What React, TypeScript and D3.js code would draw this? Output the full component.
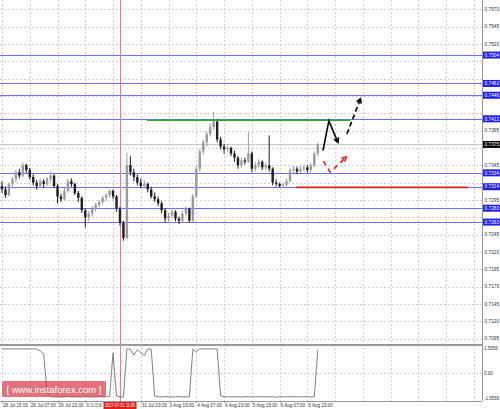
import React from "react";
import * as d3 from "d3";

// ---------- data ----------
const priceTicks = [0.7570, 0.7545, 0.7520, 0.7495, 0.7470, 0.7445, 0.7420, 0.7395, 0.7370, 0.7345, 0.7320, 0.7295, 0.7270, 0.7245, 0.7220, 0.7195, 0.7170, 0.7145, 0.7120, 0.7095];
const levelLines = [0.7504, 0.7463, 0.7446, 0.7412, 0.7334, 0.7314, 0.7283, 0.7263];
const currentPrice = 0.7375;
const timeLabelIdx = [0, 8, 16, 24, 40, 48, 56, 64, 72, 80, 88];
const timeLabelText = ["28 Jul 15:00", "29 Jul 07:00", "29 Jul 23:00", "30 Jul 15:00", "31 Jul 23:00", "3 Aug 15:00", "4 Aug 07:00", "4 Aug 23:00", "5 Aug 15:00", "6 Aug 07:00", "6 Aug 23:00"];
const crosshairIdx = 34;
const crosshairText = "2017-07-31 11:00";

// O, H, L, C
const candles: [number, number, number, number][] = [
  [0.7315, 0.7322, 0.7305, 0.7310], [0.7310, 0.7314, 0.7298, 0.7302], [0.7302, 0.7320, 0.7300, 0.7318], [0.7318, 0.7328, 0.7312, 0.7325],
  [0.7325, 0.7338, 0.7320, 0.7335], [0.7335, 0.7340, 0.7326, 0.7330], [0.7330, 0.7349, 0.7328, 0.7345], [0.7345, 0.7347, 0.7334, 0.7338],
  [0.7338, 0.7341, 0.7324, 0.7328], [0.7328, 0.7332, 0.7316, 0.7320], [0.7320, 0.7324, 0.7310, 0.7315], [0.7315, 0.7326, 0.7312, 0.7322],
  [0.7322, 0.7325, 0.7313, 0.7318], [0.7318, 0.7328, 0.7315, 0.7325], [0.7325, 0.7336, 0.7320, 0.7330], [0.7330, 0.7332, 0.7312, 0.7315],
  [0.7315, 0.7318, 0.7290, 0.7300], [0.7300, 0.7304, 0.7292, 0.7296], [0.7296, 0.7312, 0.7294, 0.7308], [0.7308, 0.7325, 0.7305, 0.7322],
  [0.7322, 0.7326, 0.7314, 0.7318], [0.7318, 0.7320, 0.7302, 0.7305], [0.7305, 0.7308, 0.7292, 0.7298], [0.7298, 0.7300, 0.7276, 0.7280],
  [0.7280, 0.7283, 0.7255, 0.7270], [0.7270, 0.7279, 0.7264, 0.7275], [0.7275, 0.7286, 0.7271, 0.7282], [0.7282, 0.7291, 0.7278, 0.7288],
  [0.7288, 0.7295, 0.7284, 0.7292], [0.7292, 0.7301, 0.7288, 0.7298], [0.7298, 0.7305, 0.7294, 0.7302], [0.7302, 0.7310, 0.7298, 0.7308],
  [0.7308, 0.7310, 0.7296, 0.7300], [0.7300, 0.7302, 0.7278, 0.7282], [0.7282, 0.7285, 0.7258, 0.7262], [0.7262, 0.7265, 0.7236, 0.7240],
  [0.7240, 0.7363, 0.7238, 0.7345], [0.7345, 0.7358, 0.7330, 0.7335], [0.7335, 0.7340, 0.7322, 0.7328], [0.7328, 0.7332, 0.7316, 0.7320],
  [0.7320, 0.7326, 0.7312, 0.7315], [0.7315, 0.7324, 0.7311, 0.7318], [0.7318, 0.7320, 0.7306, 0.7310], [0.7310, 0.7314, 0.7297, 0.7300],
  [0.7300, 0.7306, 0.7292, 0.7296], [0.7296, 0.7300, 0.7286, 0.7290], [0.7290, 0.7293, 0.7276, 0.7280], [0.7280, 0.7283, 0.7262, 0.7268],
  [0.7268, 0.7276, 0.7264, 0.7272], [0.7272, 0.7283, 0.7269, 0.7278], [0.7278, 0.7280, 0.7264, 0.7268], [0.7268, 0.7271, 0.7260, 0.7265],
  [0.7265, 0.7279, 0.7262, 0.7275], [0.7275, 0.7286, 0.7271, 0.7282], [0.7282, 0.7284, 0.7262, 0.7265], [0.7265, 0.7304, 0.7263, 0.7300],
  [0.7300, 0.7344, 0.7298, 0.7340], [0.7340, 0.7368, 0.7336, 0.7365], [0.7365, 0.7382, 0.7360, 0.7378], [0.7378, 0.7394, 0.7372, 0.7390],
  [0.7390, 0.7405, 0.7386, 0.7400], [0.7400, 0.7422, 0.7396, 0.7408], [0.7408, 0.7412, 0.7378, 0.7382], [0.7382, 0.7386, 0.7368, 0.7372],
  [0.7372, 0.7376, 0.7362, 0.7368], [0.7368, 0.7375, 0.7364, 0.7370], [0.7370, 0.7372, 0.7358, 0.7362], [0.7362, 0.7366, 0.7350, 0.7356],
  [0.7356, 0.7358, 0.7340, 0.7345], [0.7345, 0.7356, 0.7342, 0.7352], [0.7352, 0.7356, 0.7346, 0.7350], [0.7350, 0.7393, 0.7348, 0.7362],
  [0.7362, 0.7365, 0.7335, 0.7340], [0.7340, 0.7350, 0.7336, 0.7345], [0.7345, 0.7354, 0.7341, 0.7350], [0.7350, 0.7352, 0.7338, 0.7342],
  [0.7342, 0.7349, 0.7338, 0.7345], [0.7345, 0.7388, 0.7336, 0.7340], [0.7340, 0.7342, 0.7316, 0.7320], [0.7320, 0.7325, 0.7314, 0.7318],
  [0.7318, 0.7320, 0.7313, 0.7315], [0.7315, 0.7320, 0.7312, 0.7317], [0.7317, 0.7326, 0.7314, 0.7322], [0.7322, 0.7342, 0.7320, 0.7338],
  [0.7338, 0.7344, 0.7332, 0.7340], [0.7340, 0.7343, 0.7332, 0.7336], [0.7336, 0.7344, 0.7333, 0.7340], [0.7340, 0.7346, 0.7336, 0.7342],
  [0.7342, 0.7345, 0.7334, 0.7338], [0.7338, 0.7348, 0.7335, 0.7345], [0.7345, 0.7365, 0.7342, 0.7362], [0.7362, 0.7378, 0.7358, 0.7375],
];

const indicator = [
  1.50, 1.50, 1.50, 1.50, 1.50, 1.50, 1.50, 1.50, 1.50, 1.50, 1.50,
  1.38, 1.22, -1.20,
  -1.44, -1.46, -1.45, -1.47, -1.45, -1.44, -1.46, -1.45, -1.45, -1.47, -1.44, -1.45, -1.46, -1.45, -1.44, -1.46, -1.45,
  -1.42, 1.25, -1.40, -1.45, -1.46,
  1.50, 1.48, 1.12, 1.45, 1.28, 1.08, 1.50, 1.48, -1.40,
  -1.45, -1.46, -1.44, -1.45, -1.47, -1.45, -1.44, -1.46, -1.45, -1.45,
  1.48, 1.32,
  1.50, 1.50, 1.50, 1.50, 1.50, 1.50,
  -1.38,
  -1.45, -1.44, -1.46, -1.45, -1.45, -1.47, -1.44, -1.45, -1.46, -1.45, -1.44, -1.45, -1.46, -1.45, -1.45, -1.47, -1.44, -1.45, -1.46, -1.44, -1.45, -1.45, -1.46, -1.44, -1.45, -1.46, -1.45,
  1.45,
];
const indTicks = [1.5556, 0, -1.5556];
const indTickText = ["1.5556", "0.00", "-1.5556"];

// annotations (candle index, price)
const greenLine: [number, number][] = [[41.8, 0.7410], [100.3, 0.7410]];
const redLine: [number, number][] = [[84.7, 0.7313], [134.3, 0.7313]];
const blackSolid: [number, number][] = [[92.5, 0.7366], [94.2, 0.7409], [96.8, 0.7378]];
const blackDashed: [number, number][] = [[99.4, 0.7390], [103.3, 0.7441]];
const redDashed: [number, number][] = [[92.6, 0.7351], [94.6, 0.7335], [99.2, 0.7357]];

// ---------- layout ----------
const W = 500, H = 409;
const plotRight = 482;
const bottomY = 401;

export default function App() {
  const x = d3.scaleLinear().domain([0, 1]).range([2, 5.47]);
  const y = d3.scaleLinear().domain([0.7095, 0.7570]).range([338.5, 9.3]);
  const yi = d3.scaleLinear().domain([-1.5556, 1.5556]).range([398.5, 348]);
  const line = d3.line<[number, number]>().x(d => x(d[0])).y(d => y(d[1]));
  const indLine = d3.line<number>().x((_, i) => x(i)).y(d => yi(d));

  const gridXs: number[] = [];
  for (let i = 0; x(i) < plotRight - 2; i += 8) gridXs.push(x(i));

  const boxPrices = [...levelLines, currentPrice];
  const visibleTicks = priceTicks.filter(p => boxPrices.every(b => Math.abs(y(b) - y(p)) >= 6.5));

  const arrowHead = (pts: [number, number][], color: string, key: string) => {
    const a = pts[pts.length - 2], b = pts[pts.length - 1];
    const x1 = x(a[0]), y1 = y(a[1]), x2 = x(b[0]), y2 = y(b[1]);
    const ang = Math.atan2(y2 - y1, x2 - x1);
    const L = 5, s = 0.5;
    const p1 = [x2 - L * Math.cos(ang - s), y2 - L * Math.sin(ang - s)];
    const p2 = [x2 - L * Math.cos(ang + s), y2 - L * Math.sin(ang + s)];
    return <path key={key} d={`M${p1[0]},${p1[1]}L${x2},${y2}L${p2[0]},${p2[1]}`} fill="none" stroke={color} strokeWidth={1.6} />;
  };

  const font = "'Liberation Sans', Arial, sans-serif";
  const boxW = 33;
  const boxLeft = x(crosshairIdx) - boxW / 2;

  return (
    <svg width={W} height={H} style={{ position: "absolute", left: 0, top: 0, background: "#fff" }} fontFamily={font}>
      <rect x={0} y={0} width={W} height={H} fill="#fff" />
      {/* grid */}
      {priceTicks.map(p => (
        <line key={"hg" + p} x1={0} x2={plotRight} y1={Math.round(y(p)) + 0.5} y2={Math.round(y(p)) + 0.5} stroke="#d0d0d0" strokeDasharray="2,2" />
      ))}
      <line x1={0} x2={plotRight} y1={Math.round(yi(0)) + 0.5} y2={Math.round(yi(0)) + 0.5} stroke="#d0d0d0" strokeDasharray="2,2" />
      {gridXs.map(gx => (
        <line key={"vg" + gx} x1={Math.round(gx) + 0.5} x2={Math.round(gx) + 0.5} y1={0} y2={bottomY} stroke="#d0d0d0" strokeDasharray="2,2" />
      ))}
      {/* bid line */}
      <line x1={0} x2={plotRight} y1={Math.round(y(currentPrice)) + 0.5} y2={Math.round(y(currentPrice)) + 0.5} stroke="#c8c8c8" />
      {/* level lines */}
      {levelLines.map(p => (
        <line key={"lv" + p} x1={0} x2={plotRight} y1={Math.round(y(p)) + 0.5} y2={Math.round(y(p)) + 0.5} stroke="#6e6eff" strokeWidth={1} />
      ))}
      {/* crosshair */}
      <line x1={Math.round(x(crosshairIdx)) + 0.5} x2={Math.round(x(crosshairIdx)) + 0.5} y1={0} y2={bottomY} stroke="#e88080" />
      {/* candles */}
      {candles.map((c, i) => {
        const [o, h, l, cl] = c;
        const up = cl >= o;
        const col = up ? "#9a9a9a" : "#1e1e1e";
        const cx = x(i);
        const top = y(Math.max(o, cl)), bot = y(Math.min(o, cl));
        return (
          <g key={"c" + i}>
            <line x1={cx} x2={cx} y1={y(h)} y2={y(l)} stroke={col} strokeWidth={1} />
            <rect x={cx - 1.2} y={top} width={2.4} height={Math.max(0.8, bot - top)} fill={col} />
          </g>
        );
      })}
      {/* horizontal annotation lines */}
      <path d={line(greenLine) || ""} stroke="#22b022" strokeWidth={1.6} fill="none" />
      <path d={line(redLine) || ""} stroke="#e02020" strokeWidth={1.6} fill="none" />
      {/* arrows */}
      <path d={line(blackSolid) || ""} stroke="#000" strokeWidth={1.6} fill="none" />
      {arrowHead(blackSolid, "#000", "ah1")}
      <path d={line(blackDashed) || ""} stroke="#000" strokeWidth={1.6} fill="none" strokeDasharray="5,3" />
      {arrowHead(blackDashed, "#000", "ah2")}
      <path d={line(redDashed) || ""} stroke="#e02020" strokeWidth={1.6} fill="none" strokeDasharray="5,4" />
      {arrowHead(redDashed, "#e02020", "ah3")}
      {/* indicator panel */}
      <line x1={0} x2={plotRight} y1={345} y2={345} stroke="#999" strokeWidth={2} />
      <path d={indLine(indicator) || ""} stroke="#808080" strokeWidth={1} fill="none" />
      {/* watermark */}
      <rect x={2} y={381} width={104} height={16} rx={2} fill="rgb(215,60,75)" fillOpacity={0.72} />
      <text x={54} y={392.5} textAnchor="middle" fontSize={9.5} fill="#fff">[ www.instaforex.com ]</text>
      {/* borders */}
      <line x1={plotRight + 0.5} x2={plotRight + 0.5} y1={0} y2={bottomY} stroke="#999" />
      <line x1={0} x2={plotRight} y1={bottomY + 0.5} y2={bottomY + 0.5} stroke="#999" />
      {/* right axis labels */}
      {visibleTicks.map(p => (
        <text key={"pt" + p} x={484.5} y={y(p) + 1.7} fontSize={4.8} fill="#333">{p.toFixed(4)}</text>
      ))}
      {levelLines.map(p => (
        <g key={"lb" + p}>
          <rect x={483} y={y(p) - 3.5} width={17} height={7} fill="#1f1fe6" />
          <text x={484.5} y={y(p) + 1.7} fontSize={4.8} fill="#fff">{p.toFixed(4)}</text>
        </g>
      ))}
      <rect x={483} y={y(currentPrice) - 3.5} width={17} height={7} fill="#000" />
      <text x={484.5} y={y(currentPrice) + 1.7} fontSize={4.8} fill="#fff">{currentPrice.toFixed(4)}</text>
      {indTicks.map((v, i) => (
        <text key={"it" + i} x={484} y={Math.min(yi(v) + 1.7, 400)} fontSize={4.5} fill="#333">{indTickText[i]}</text>
      ))}
      {/* time labels */}
      {timeLabelIdx.map((ti, k) => {
        const lx = x(ti) + 1;
        const squeeze = lx < boxLeft && lx + 22 > boxLeft;
        return (
          <g key={"tl" + ti}>
            <line x1={Math.round(x(ti)) + 0.5} x2={Math.round(x(ti)) + 0.5} y1={bottomY} y2={bottomY + 2} stroke="#999" />
            <text x={lx} y={406.5} fontSize={4.6} fill="#333"
              textLength={squeeze ? boxLeft - lx - 1.5 : undefined}
              lengthAdjust={squeeze ? "spacingAndGlyphs" : undefined}>{timeLabelText[k]}</text>
          </g>
        );
      })}
      <rect x={boxLeft} y={402} width={boxW} height={7} fill="#e51c1c" />
      <text x={boxLeft + 1.5} y={407.2} fontSize={4.6} fill="#fff" textLength={boxW - 3} lengthAdjust="spacingAndGlyphs">{crosshairText}</text>
    </svg>
  );
}
